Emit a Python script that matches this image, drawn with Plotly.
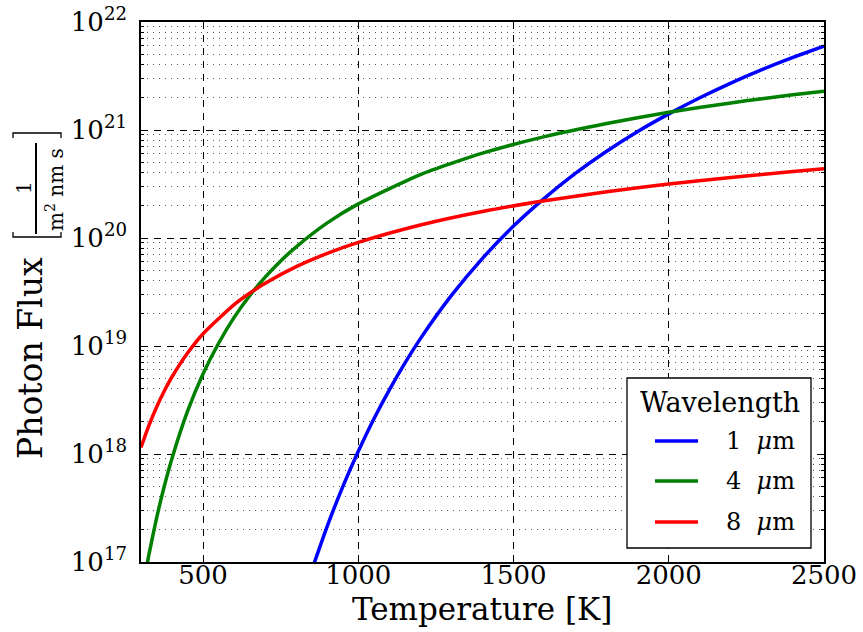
import plotly.graph_objects as go

# ---- data ----
temp_1um = [850, 900, 950, 1000, 1050, 1100, 1150, 1200, 1300, 1400, 1500, 1600, 1700,
            1800, 1900, 2000, 2100, 2200, 2300, 2400, 2500]
flux_1um = [8.4e16, 2.15e17, 4.99e17, 1.06e18, 2.11e18, 3.93e18, 6.94e18, 1.17e19, 2.94e19,
            6.48e19, 1.29e20, 2.34e20, 3.98e20, 6.36e20, 9.69e20, 1.41e21, 1.99e21,
            2.72e21, 3.62e21, 4.70e21, 5.98e21]

temp_4um = [300, 325, 350, 375, 400, 450, 500, 550, 600, 650, 700, 750, 800, 900, 1000,
            1200, 1400, 1600, 1800, 2000, 2200, 2300, 2400, 2500]
flux_4um = [4.57e16, 1.15e17, 2.53e17, 5.03e17, 9.15e17, 2.49e18, 5.53e18, 1.06e19, 1.84e19,
            2.92e19, 4.34e19, 6.13e19, 8.29e19, 1.38e20, 2.07e20, 3.87e20, 6.10e20,
            8.69e20, 1.15e21, 1.46e21, 1.78e21, 1.95e21, 2.12e21, 2.29e21]

temp_8um = [300, 325, 350, 375, 400, 450, 500, 600, 650, 700, 800, 900, 1000, 1200, 1400,
            1600, 1800, 2000, 2200, 2300, 2400, 2500]
flux_8um = [1.15e18, 1.82e18, 2.71e18, 3.83e18, 5.19e18, 8.61e18, 1.30e19, 2.42e19, 3.08e19,
            3.81e19, 5.43e19, 7.21e19, 9.12e19, 1.32e20, 1.76e20, 2.21e20, 2.68e20,
            3.16e20, 3.64e20, 3.88e20, 4.12e20, 4.37e20]

series_names = ["1 <i>\u03bc</i>m", "4 <i>\u03bc</i>m", "8 <i>\u03bc</i>m"]
series_colors = ["#0000ff", "#008000", "#ff0000"]
legend_title = "Wavelength"

x_tickvals = [500, 1000, 1500, 2000, 2500]
x_ticktext = ["500", "1000", "1500", "2000", "2500"]
y_exponents = [17, 18, 19, 20, 21, 22]

FONT = "DejaVu Serif"

L, R, T, B = 141, 824, 22, 562
W, H = R - L, B - T


def xp(px):
    return (px - L) / W


def yp(py):
    return (B - py) / H


fig = go.Figure()
for i, (t, f) in enumerate([(temp_1um, flux_1um), (temp_4um, flux_4um), (temp_8um, flux_8um)]):
    fig.add_trace(go.Scatter(
        x=t, y=f, mode="lines", name=series_names[i], showlegend=False,
        line=dict(color=series_colors[i], width=3.5, shape="spline", smoothing=0.6),
    ))

y_tickvals = [10.0 ** e for e in y_exponents]
y_ticktext = [f"10<sup>{e}</sup>" for e in y_exponents]
y_minor = [k * 10.0 ** e for e in y_exponents[:-1] for k in range(2, 10)]

fig.update_layout(
    width=863, height=632,
    margin=dict(l=L, r=863 - R, t=T, b=632 - B, autoexpand=False),
    plot_bgcolor="white", paper_bgcolor="white",
    font=dict(family=FONT, color="black", size=26),
    showlegend=False,
    xaxis=dict(
        range=[300, 2500], tickvals=x_tickvals, ticktext=x_ticktext,
        ticks="inside", ticklen=6, tickcolor="black", tickwidth=1,
        showline=True, linecolor="black", linewidth=1.5, mirror="ticks",
        showgrid=True, gridcolor="black", gridwidth=1, griddash="7px,6px",
        zeroline=False, tickfont=dict(family=FONT, size=26),
        ticklabelstandoff=-11, automargin=False,
    ),
    yaxis=dict(
        type="log", range=[17, 22], tickvals=y_tickvals, ticktext=y_ticktext,
        ticks="inside", ticklen=6, tickcolor="black", tickwidth=1,
        showline=True, linecolor="black", linewidth=1.5, mirror="ticks",
        showgrid=True, gridcolor="black", gridwidth=1, griddash="7px,6px",
        zeroline=False, tickfont=dict(family=FONT, size=26),
        ticklabelstandoff=7, automargin=False,
        minor=dict(tickmode="array", tickvals=y_minor, ticks="inside", ticklen=3,
                   tickcolor="black", showgrid=True, gridcolor="rgba(0,0,0,0.65)",
                   gridwidth=1, griddash="1px,5px"),
    ),
)

# axis titles
fig.add_annotation(text="Temperature [K]", xref="paper", yref="paper",
                   x=xp(482), y=yp(609), showarrow=False,
                   font=dict(family=FONT, size=31), xanchor="center", yanchor="middle")
fig.add_annotation(text="Photon Flux", xref="paper", yref="paper",
                   x=xp(30), y=yp(358), showarrow=False, textangle=-90,
                   font=dict(family=FONT, size=33), xanchor="center", yanchor="middle")
fig.add_annotation(text="1", xref="paper", yref="paper",
                   x=xp(24), y=yp(188), showarrow=False, textangle=-90,
                   font=dict(family=FONT, size=20), xanchor="center", yanchor="middle")
fig.add_annotation(text="m<sup>2</sup> nm s", xref="paper", yref="paper",
                   x=xp(55), y=yp(190), showarrow=False, textangle=-90,
                   font=dict(family=FONT, size=20), xanchor="center", yanchor="middle")
# fraction bar
fig.add_shape(type="line", xref="paper", yref="paper",
              x0=xp(36), x1=xp(36), y0=yp(143), y1=yp(234),
              line=dict(color="black", width=2))
# brackets
fig.add_shape(type="path", xref="paper", yref="paper",
              path=f"M {xp(13)},{yp(232)} L {xp(13)},{yp(237)} L {xp(61)},{yp(237)} L {xp(61)},{yp(232)}",
              line=dict(color="black", width=1.3))
fig.add_shape(type="path", xref="paper", yref="paper",
              path=f"M {xp(13)},{yp(138)} L {xp(13)},{yp(133)} L {xp(61)},{yp(133)} L {xp(61)},{yp(138)}",
              line=dict(color="black", width=1.3))

# legend (drawn as box + samples + labels)
fig.add_shape(type="rect", xref="paper", yref="paper",
              x0=xp(627), x1=xp(811), y0=yp(548), y1=yp(378),
              fillcolor="white", line=dict(color="black", width=1.3), layer="above")
fig.add_annotation(text=legend_title, xref="paper", yref="paper",
                   x=xp(720), y=yp(403), showarrow=False,
                   font=dict(family=FONT, size=27), xanchor="center", yanchor="middle")
legend_rows = [441, 481, 522]
for i, row in enumerate(legend_rows):
    fig.add_shape(type="line", xref="paper", yref="paper",
                  x0=xp(655), x1=xp(698), y0=yp(row), y1=yp(row),
                  line=dict(color=series_colors[i], width=3.5), layer="above")
    fig.add_annotation(text=series_names[i].replace(" ", "\u00a0\u00a0"), xref="paper", yref="paper",
                       x=xp(724), y=yp(row), showarrow=False,
                       font=dict(family=FONT, size=24), xanchor="left", yanchor="middle")

fig.write_html("out.html")
